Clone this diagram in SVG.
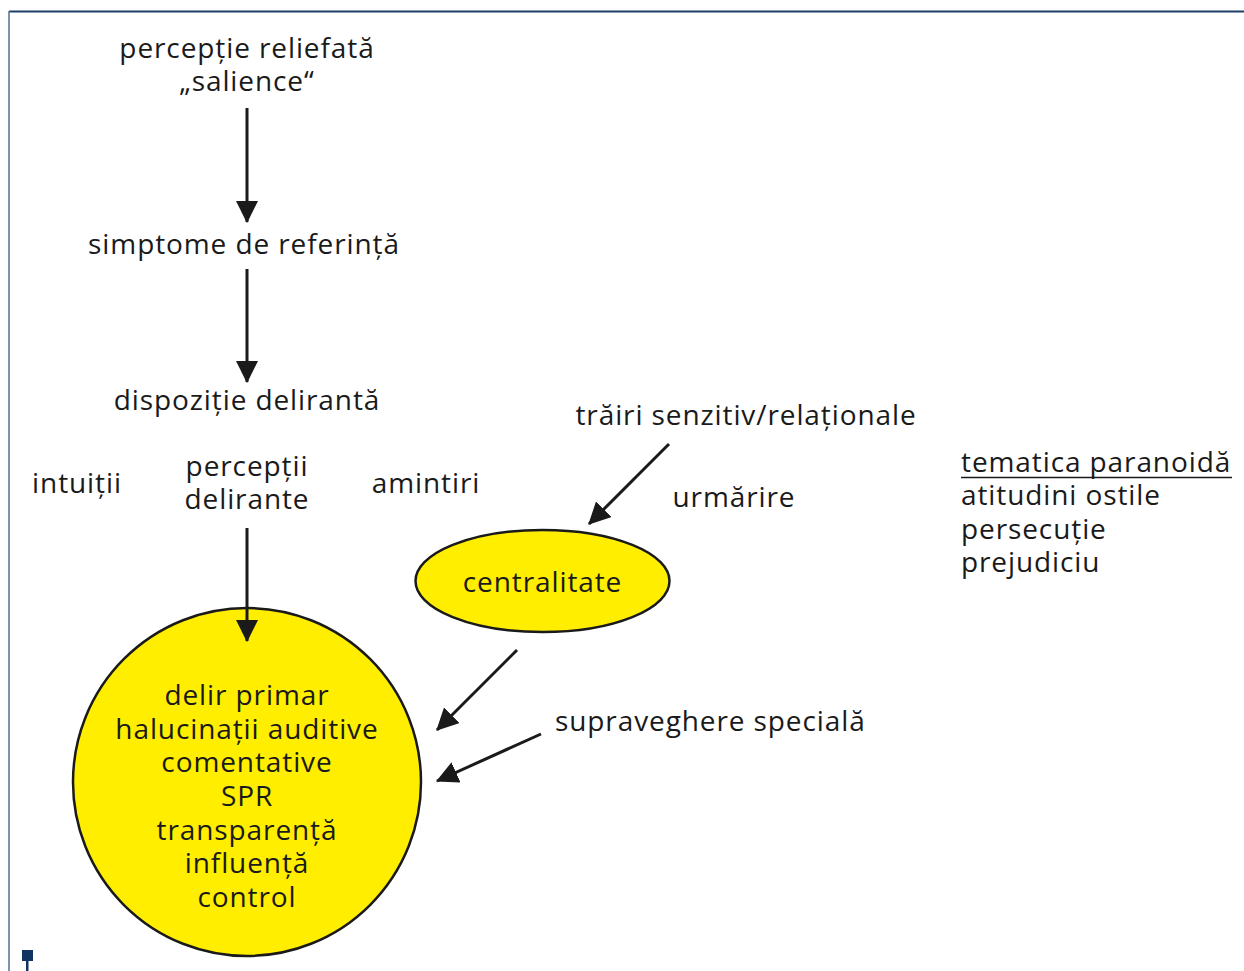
<svg xmlns="http://www.w3.org/2000/svg" width="1244" height="971" viewBox="0 0 1244 971">
<style>
text{font-family:"Open Sans","Noto Sans","DejaVu Sans",sans-serif;font-size:28px;letter-spacing:0.9px;fill:#1a1a1a}
.c{text-anchor:middle}
.conn line{stroke:#1a1a1a;stroke-width:3;fill:none}
.node ellipse,.node circle{fill:#ffee00;stroke:#1a1a1a;stroke-width:2.5}
</style>
<defs>
<marker id="ah" markerUnits="userSpaceOnUse" markerWidth="22" markerHeight="22" viewBox="0 0 20 20" refX="19" refY="10" orient="auto">
<path d="M0,0 L20,10 L0,20 z" fill="#1a1a1a"/>
</marker>
</defs>
<rect width="1244" height="971" fill="#ffffff"/>
<g id="frame">
<line x1="9" y1="11.5" x2="1244" y2="11.5" stroke="#1f3f66" stroke-width="2"/>
<line x1="9" y1="11" x2="9" y2="971" stroke="#5a7898" stroke-width="1.6"/>
<rect x="22" y="950" width="11" height="11" fill="#0f3461"/>
<rect x="26" y="961" width="2.5" height="10" fill="#0f3461"/>
</g>
<g id="n-salience"><text class="c" x="247" y="58">percepție reliefată</text><text class="c" x="247" y="91">„salience“</text></g>
<g id="n-simptome"><text class="c" x="244" y="254">simptome de referință</text></g>
<g id="n-dispozitie"><text class="c" x="247" y="410">dispoziție delirantă</text></g>
<g id="n-intuitii"><text class="c" x="77" y="493">intuiții</text></g>
<g id="n-perceptii"><text class="c" x="247" y="476">percepții</text><text class="c" x="247" y="509">delirante</text></g>
<g id="n-amintiri"><text class="c" x="426" y="493">amintiri</text></g>
<g id="n-traiti"><text class="c" x="746" y="425">trăiri senzitiv/relaționale</text></g>
<g id="n-urmarire"><text class="c" x="734" y="507">urmărire</text></g>
<g id="n-centralitate" class="node"><ellipse cx="542.5" cy="581" rx="127" ry="51"/><text class="c" x="542.5" y="592">centralitate</text></g>
<g id="n-supraveghere"><text x="555" y="731">supraveghere specială</text></g>
<g id="n-tematica"><text x="961" y="472">tematica paranoidă</text><line x1="961" y1="477.5" x2="1232" y2="477.5" stroke="#1a1a1a" stroke-width="1.6"/><text x="961" y="505">atitudini ostile</text><text x="961" y="539">persecuție</text><text x="961" y="572">prejudiciu</text></g>
<g id="n-delir" class="node"><circle cx="247" cy="782" r="174"/>
<text class="c" x="247" y="705">delir primar</text>
<text class="c" x="247" y="739">halucinații auditive</text>
<text class="c" x="247" y="772">comentative</text>
<text class="c" x="247" y="806">SPR</text>
<text class="c" x="247" y="840">transparență</text>
<text class="c" x="247" y="873">influență</text>
<text class="c" x="247" y="907">control</text>
</g>
<g class="conn" id="connectors">
<line x1="247" y1="108" x2="247" y2="222" marker-end="url(#ah)"/>
<line x1="247" y1="269" x2="247" y2="382" marker-end="url(#ah)"/>
<line x1="247" y1="528" x2="247" y2="641" marker-end="url(#ah)"/>
<line x1="669" y1="444" x2="589" y2="524" marker-end="url(#ah)"/>
<line x1="517" y1="650" x2="437" y2="730" marker-end="url(#ah)"/>
<line x1="541" y1="734" x2="437" y2="781" marker-end="url(#ah)"/>
</g>
</svg>
